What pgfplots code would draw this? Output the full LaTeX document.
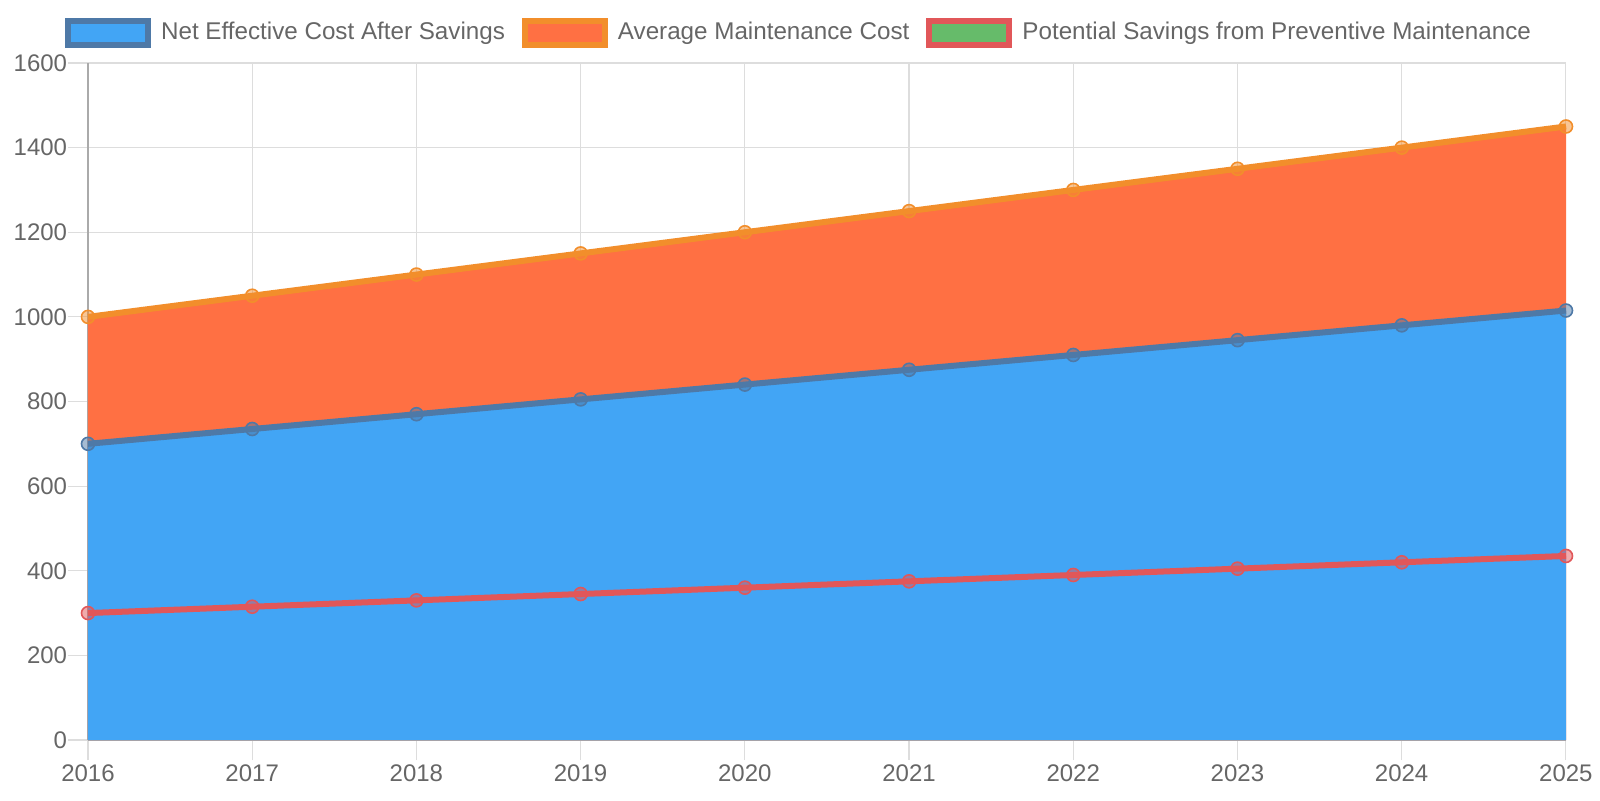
\documentclass[border=0pt]{standalone}
\usepackage{pgfplots}
\pgfplotsset{compat=1.18}
\usepackage{fontspec}
\setmainfont{Liberation Sans}
\definecolor{netfill}{HTML}{42A5F5}
\definecolor{netline}{HTML}{4E79A7}
\definecolor{avgfill}{HTML}{FF7043}
\definecolor{avgline}{HTML}{F28E2B}
\definecolor{potfill}{HTML}{66BB6A}
\definecolor{potline}{HTML}{E15759}
\definecolor{txt}{HTML}{666666}
\definecolor{gridc}{HTML}{DDDDDD}
\definecolor{axc}{HTML}{AAAAAA}
\begin{document}
\begin{tikzpicture}
\begin{axis}[
  at={(0,0)}, anchor=south west,
  scale only axis, width=739pt, height=338.5pt,
  xmin=2016, xmax=2025, ymin=0, ymax=1600,
  xtick={2016,...,2025}, ytick={0,200,...,1600},
  /pgf/number format/assume math mode=true,
  /pgf/number format/1000 sep={},
  tick label style={font=\fontsize{12}{14}\selectfont, text=txt},
  axis lines=left, axis line style={-, draw=axc, line width=0.6pt},
  grid=major, grid style={draw=gridc, line width=0.6pt},
  tick style={draw=gridc, line width=0.6pt},
  tick align=outside, major tick length=10pt,
  xticklabel style={yshift=1pt},
  yticklabel style={xshift=3pt},
  clip=false,
  legend columns=3,
  legend style={at={(0.5,1)}, anchor=south, yshift=5.5pt, xshift=-13.5pt, draw=none, fill=none,
    font=\fontsize{12.1}{13}\selectfont, text=txt,
    /tikz/every even column/.append style={column sep=6.5pt},
    /tikz/every odd column/.append style={column sep=3pt}},
  legend cell align=left,
]
\addlegendimage{legend image code/.code={\draw[line width=3pt, draw=netline, fill=netfill] (1.5pt,-6pt) rectangle (41.5pt,6pt);}}
\addlegendentry{Net Effective Cost After Savings}
\addlegendimage{legend image code/.code={\draw[line width=3pt, draw=avgline, fill=avgfill] (1.5pt,-6pt) rectangle (41.5pt,6pt);}}
\addlegendentry{Average Maintenance Cost}
\addlegendimage{legend image code/.code={\draw[line width=3pt, draw=potline, fill=potfill] (1.5pt,-6pt) rectangle (41.5pt,6pt);}}
\addlegendentry{Potential Savings from Preventive Maintenance}
% areas
\addplot[forget plot, draw=none, fill=avgfill] coordinates {(2016,1000)(2017,1050)(2018,1100)(2019,1150)(2020,1200)(2021,1250)(2022,1300)(2023,1350)(2024,1400)(2025,1450)} \closedcycle;
\addplot[forget plot, draw=none, fill=netfill] coordinates {(2016,700)(2017,735)(2018,770)(2019,805)(2020,840)(2021,875)(2022,910)(2023,945)(2024,980)(2025,1015)} \closedcycle;
% lines
\addplot[forget plot, line width=3pt, draw=avgline, mark=*, mark size=3.25pt, mark options={line width=0.8pt, draw=avgline, fill=avgline, fill opacity=0.5}] coordinates {(2016,1000)(2017,1050)(2018,1100)(2019,1150)(2020,1200)(2021,1250)(2022,1300)(2023,1350)(2024,1400)(2025,1450)};
\addplot[forget plot, line width=3pt, draw=netline, mark=*, mark size=3.25pt, mark options={line width=0.8pt, draw=netline, fill=netline, fill opacity=0.5}] coordinates {(2016,700)(2017,735)(2018,770)(2019,805)(2020,840)(2021,875)(2022,910)(2023,945)(2024,980)(2025,1015)};
\addplot[forget plot, line width=3pt, draw=potline, mark=*, mark size=3.25pt, mark options={line width=0.8pt, draw=potline, fill=potline, fill opacity=0.5}] coordinates {(2016,300)(2017,315)(2018,330)(2019,345)(2020,360)(2021,375)(2022,390)(2023,405)(2024,420)(2025,435)};
\end{axis}
\pgfresetboundingbox
\path[use as bounding box] (-44pt,-30pt) rectangle (756pt,370pt);
\end{tikzpicture}
\end{document}
